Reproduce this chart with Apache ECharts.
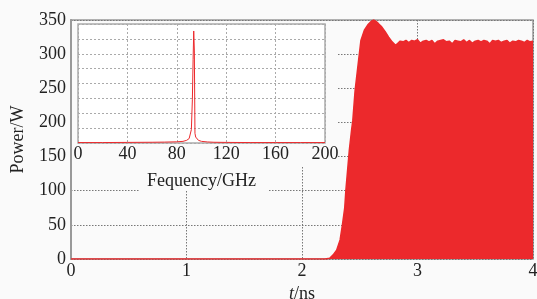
<!DOCTYPE html>
<html>
<head>
<meta charset="utf-8">
<script src="https://cdn.jsdelivr.net/npm/echarts@6/dist/echarts.min.js"></script>
<style>
  html, body { margin: 0; padding: 0; background: #fafafa; }
  #chart { width: 537px; height: 299px; }
</style>
</head>
<body>
<div id="chart"></div>
<script>
// main trace: upper envelope of the output power
const timeNs = [0, 2.2, 2.24, 2.27, 2.30, 2.33, 2.35, 2.37, 2.38, 2.40, 2.41, 2.43, 2.44, 2.46, 2.49,
  2.51, 2.54, 2.57, 2.60, 2.62, 2.64, 2.66, 2.69, 2.72, 2.75, 2.78, 2.81, 2.83, 2.85, 2.875,
  2.9, 2.925, 2.95, 2.975, 3.0, 3.025, 3.05, 3.075, 3.1, 3.125, 3.15, 3.175, 3.2, 3.225, 3.25,
  3.275, 3.3, 3.325, 3.35, 3.375, 3.4, 3.425, 3.45, 3.475, 3.5, 3.525, 3.55, 3.575, 3.6, 3.625,
  3.65, 3.675, 3.7, 3.725, 3.75, 3.775, 3.8, 3.825, 3.85, 3.875, 3.9, 3.925, 3.95, 3.975, 4.0];
const powerW = [0, 0, 1, 6, 13, 28, 50, 75, 101, 140, 160, 190, 203, 247, 291,
  320, 335, 343, 348, 350, 348, 345, 340, 333, 325, 318, 313, 316, 319, 318,
  320, 317, 320, 319, 321, 316, 319, 320, 318, 320, 315, 319, 320, 321, 318,
  319, 315, 320, 319, 318, 321, 317, 320, 316, 319, 320, 318, 320, 319, 315,
  320, 319, 320, 317, 319, 320, 316, 319, 318, 320, 319, 317, 320, 318, 319];

// inset: spectrum
const freqGHz = [0, 20, 40, 60, 70, 80, 85, 88, 90, 90.7, 91.8, 92.6, 93.2, 93.7, 94.2,
  94.7, 95.3, 96.1, 97.5, 100, 105, 110, 120, 140, 160, 180, 200];
const spectrum = [0.03, 0.03, 0.04, 0.05, 0.06, 0.08, 0.11, 0.18, 0.3, 0.42, 0.9, 2.9, 5.6, 7.53, 6.25,
  0.65, 0.4, 0.28, 0.18, 0.11, 0.07, 0.05, 0.04, 0.03, 0.03, 0.03, 0.03];

const RED = '#ec292c';
const FONT = 'Liberation Serif';

let chart;

const getOption = () => {
    return {
        backgroundColor: '#fafafa',
        animation: false,
        textStyle: { fontFamily: FONT },
        grid: [
            { left: 71, top: 20, right: 4, bottom: 40, show: true, z: 0,
              containLabel: false, outerBoundsMode: 'none',
              backgroundColor: '#fafafa', borderColor: '#999', borderWidth: 1.5 },
            { left: 78, top: 24, width: 247, height: 119, show: true, z: 6,
              containLabel: false, outerBoundsMode: 'none',
              backgroundColor: '#ffffff', borderColor: '#aaa', borderWidth: 1.5 }
        ],
        graphic: [
            { type: 'rect', z: 5, shape: { x: 72, y: 21, width: 266, height: 146 },
              style: { fill: '#fafafa' } },
            { type: 'rect', z: 5, shape: { x: 140, y: 167, width: 128, height: 24 },
              style: { fill: '#fafafa' } }
        ],
        xAxis: [
            {
                gridIndex: 0, type: 'value', min: 0, max: 4, interval: 1, z: 0,
                name: '{i|t}/ns', nameLocation: 'middle', nameGap: 24,
                nameTextStyle: {
                    fontFamily: FONT, fontSize: 18, color: '#222',
                    rich: { i: { fontFamily: FONT, fontSize: 18, fontStyle: 'italic', color: '#222' } }
                },
                axisLine: { show: false },
                axisTick: { show: false },
                axisLabel: { fontFamily: FONT, fontSize: 18, color: '#222', margin: 3 },
                splitLine: { show: true, lineStyle: { color: '#777', type: [1.5, 1.5], width: 1 } }
            },
            {
                gridIndex: 1, type: 'value', min: 0, max: 200, interval: 40, z: 7,
                name: 'Fequency/GHz', nameLocation: 'middle', nameGap: 29,
                nameTextStyle: { fontFamily: FONT, fontSize: 18, color: '#222' },
                axisLine: { show: false },
                axisTick: { show: false },
                axisLabel: { fontFamily: FONT, fontSize: 18, color: '#222', margin: 2 },
                splitLine: { show: true, lineStyle: { color: '#aaa', type: [2, 2], width: 1 } }
            }
        ],
        yAxis: [
            {
                gridIndex: 0, type: 'value', min: 0, max: 350, interval: 50, z: 0,
                name: 'Power/W', nameLocation: 'middle', nameGap: 44,
                nameTextStyle: { fontFamily: FONT, fontSize: 18, color: '#222' },
                axisLine: { show: true, lineStyle: { color: '#999', width: 2 } },
                axisTick: { show: false },
                axisLabel: { fontFamily: FONT, fontSize: 18, color: '#222', margin: 5 },
                splitLine: { show: true, lineStyle: { color: '#777', type: [1.5, 1.5], width: 1 } }
            },
            {
                gridIndex: 1, type: 'value', min: 0, max: 8, interval: 1, z: 7,
                axisLine: { show: false },
                axisTick: { show: false },
                axisLabel: { show: false },
                splitLine: { show: true, lineStyle: { color: '#aaa', type: [2, 2], width: 1 } }
            }
        ],
        series: [
            {
                type: 'line', xAxisIndex: 0, yAxisIndex: 0, z: 2,
                data: timeNs.map((t, i) => [t, powerW[i]]),
                showSymbol: false,
                lineStyle: { color: RED, width: 1.5 },
                areaStyle: { color: RED, opacity: 1, origin: 'start' }
            },
            {
                type: 'line', xAxisIndex: 1, yAxisIndex: 1, z: 8,
                data: freqGHz.map((f, i) => [f, spectrum[i]]),
                showSymbol: false,
                lineStyle: { color: RED, width: 1 }
            }
        ]
    }
}

function initChart(){
    chart = echarts.init(document.getElementById('chart'), null, { renderer: 'canvas' });
    chart.setOption(getOption());
}

initChart();
</script>
</body>
</html>
